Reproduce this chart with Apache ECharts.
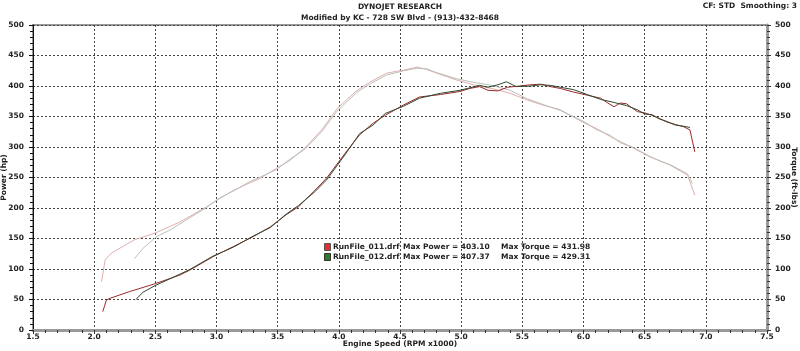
<!DOCTYPE html>
<html>
<head>
<meta charset="utf-8">
<script src="https://cdn.jsdelivr.net/npm/echarts@6/dist/echarts.min.js"></script>
<style>
  html, body { margin: 0; padding: 0; background: #fff; }
  #chart { width: 800px; height: 351px; }
</style>
</head>
<body>
<div id="chart"></div>
<script>
  // RunFile_011 - power (hp)
  const rpmHp011 = [2.07, 2.10, 2.13, 2.29, 2.50, 2.70, 2.78, 2.97, 3.14, 3.30, 3.44, 3.57, 3.67, 3.80, 3.90, 4.06, 4.17, 4.28, 4.38, 4.53, 4.66, 4.83, 4.99, 5.07, 5.15, 5.22, 5.30, 5.38, 5.48, 5.57, 5.65, 5.73, 5.81, 5.92, 6.03, 6.14, 6.20, 6.25, 6.30, 6.35, 6.44, 6.50, 6.56, 6.62, 6.68, 6.75, 6.82, 6.87, 6.91];
  const hp011 = [30, 49, 52, 63, 76, 90, 98, 120, 137, 153, 169, 189, 202, 228, 249, 292, 320, 339, 352, 369, 382, 386, 391, 396, 399, 393, 392, 398, 400, 402, 403, 399, 396, 390, 385, 380, 372, 366, 372, 371, 358, 356, 352, 347, 341, 337, 333, 328, 292];

  // RunFile_012 - power (hp)
  const rpmHp012 = [2.34, 2.40, 2.50, 2.62, 2.78, 2.97, 3.14, 3.30, 3.44, 3.57, 3.67, 3.80, 3.90, 4.06, 4.17, 4.28, 4.38, 4.53, 4.66, 4.83, 4.99, 5.07, 5.15, 5.22, 5.30, 5.37, 5.45, 5.57, 5.65, 5.73, 5.81, 5.92, 6.03, 6.14, 6.25, 6.35, 6.44, 6.50, 6.56, 6.62, 6.68, 6.75, 6.82, 6.87];
  const hp012 = [50, 62, 73, 84, 99, 121, 136, 154, 168, 190, 204, 226, 246, 290, 322, 336, 355, 367, 380, 388, 393, 397, 401, 398, 402, 407, 399, 400, 402, 401, 398, 394, 386, 378, 373, 368, 361, 354, 353, 346, 342, 336, 334, 332];

  // RunFile_011 - torque (ft-lbs)
  const rpmTq011 = [2.06, 2.09, 2.14, 2.33, 2.50, 2.70, 2.92, 3.03, 3.14, 3.27, 3.36, 3.49, 3.60, 3.72, 3.86, 3.99, 4.15, 4.26, 4.39, 4.47, 4.53, 4.64, 4.72, 4.80, 4.96, 5.10, 5.25, 5.40, 5.54, 5.68, 5.81, 6.01, 6.10, 6.22, 6.30, 6.41, 6.54, 6.62, 6.71, 6.85, 6.91];
  const tq011 = [79, 115, 126, 148, 159, 177, 202, 216, 229, 241, 249, 265, 278, 298, 328, 364, 393, 407, 421, 424, 426, 431, 427, 421, 410, 402, 396, 388, 377, 368, 361, 339, 331, 317, 309, 298, 284, 278, 270, 254, 221];

  // RunFile_012 - torque (ft-lbs)
  const rpmTq012 = [2.33, 2.40, 2.51, 2.62, 2.75, 2.92, 3.03, 3.14, 3.27, 3.36, 3.49, 3.60, 3.72, 3.86, 3.99, 4.15, 4.26, 4.39, 4.53, 4.64, 4.72, 4.80, 4.96, 5.10, 5.25, 5.40, 5.54, 5.68, 5.81, 6.01, 6.10, 6.22, 6.30, 6.41, 6.54, 6.62, 6.71, 6.85, 6.89];
  const tq012 = [117, 134, 153, 164, 180, 201, 217, 228, 243, 251, 263, 280, 296, 325, 360, 390, 404, 418, 425, 429, 428, 422, 412, 406, 401, 393, 379, 369, 360, 341, 329, 319, 307, 299, 285, 277, 271, 256, 240];

  const FONT = 'DejaVu Sans';
  const zip = (xs, ys) => xs.map((x, i) => [x, ys[i]]);

  const lineSeries = (name, data, color, yAxisIndex) => ({
    name,
    type: 'line',
    data,
    yAxisIndex,
    showSymbol: false,
    silent: true,
    lineStyle: { color, width: 1 },
    z: 3,
  });

  const label = (text, x, y, align) => ({
    type: 'text',
    left: align === 'right' ? null : x,
    right: align === 'right' ? x : null,
    top: y,
    style: { text, font: `bold 7.5px ${FONT}`, fill: '#222' },
  });

  const chart = echarts.init(document.getElementById('chart'));

  chart.setOption({
    animation: false,
    backgroundColor: '#fff',
    grid: {
      left: 33,
      right: 33,
      top: 25,
      bottom: 21,
      outerBoundsMode: 'none',
      containLabel: false,
      show: true,
      borderColor: '#999',
      borderWidth: 2,
    },
    xAxis: {
      type: 'value',
      min: 1.5,
      max: 7.5,
      interval: 0.5,
      name: 'Engine Speed (RPM x1000)',
      nameLocation: 'middle',
      nameGap: 10,
      nameMoveOverlap: false,
      nameTextStyle: { fontFamily: FONT, fontWeight: 'bold', fontSize: 7.5, color: '#222' },
      axisLine: { lineStyle: { color: '#9a9a9a', width: 3 } },
      axisTick: { show: true, length: 4, lineStyle: { color: '#333' } },
      minorTick: { show: true, splitNumber: 5, length: 3, lineStyle: { color: '#333' } },
      axisLabel: {
        fontFamily: FONT, fontWeight: 'bold', fontSize: 7.5, color: '#222', margin: 3,
        formatter: (v) => v.toFixed(1),
      },
      splitLine: { show: true, lineStyle: { color: '#444', type: [2, 2], width: 1 } },
    },
    yAxis: [
      {
        type: 'value',
        min: 0,
        max: 500,
        interval: 50,
        position: 'left',
        name: 'Power (hp)',
        nameLocation: 'middle',
        nameRotate: 90,
        nameGap: 25,
        nameMoveOverlap: false,
        nameTextStyle: { fontFamily: FONT, fontWeight: 'bold', fontSize: 7.5, color: '#222' },
        axisLine: { show: true, lineStyle: { color: '#111', width: 1 } },
        axisTick: { show: true, length: 4, lineStyle: { color: '#111' } },
        minorTick: { show: true, splitNumber: 5, length: 3, lineStyle: { color: '#111' } },
        axisLabel: { fontFamily: FONT, fontWeight: 'bold', fontSize: 7.5, color: '#222', margin: 9 },
        splitLine: { show: true, lineStyle: { color: '#444', type: [2, 2], width: 1 } },
      },
      {
        type: 'value',
        min: 0,
        max: 500,
        interval: 50,
        position: 'right',
        name: 'Torque (ft-lbs)',
        nameLocation: 'middle',
        nameRotate: -90,
        nameGap: 23,
        nameMoveOverlap: false,
        nameTextStyle: { fontFamily: FONT, fontWeight: 'bold', fontSize: 7.5, color: '#222' },
        axisLine: { show: true, lineStyle: { color: '#9a9a9a', width: 3 } },
        axisTick: { show: true, length: 4, lineStyle: { color: '#333' } },
        minorTick: { show: true, splitNumber: 5, length: 3, lineStyle: { color: '#333' } },
        axisLabel: { fontFamily: FONT, fontWeight: 'bold', fontSize: 7.5, color: '#222', margin: 8 },
        splitLine: { show: false },
      },
    ],
    series: [
      lineSeries('Torque 011', zip(rpmTq011, tq011), '#e2aeae', 1),
      lineSeries('Torque 012', zip(rpmTq012, tq012), '#b9c2b9', 1),
      lineSeries('Power 011', zip(rpmHp011, hp011), '#9a2a2a', 0),
      lineSeries('Power 012', zip(rpmHp012, hp012), '#2f4a30', 0),
    ],
    graphic: [
      {
        type: 'text', left: 'center', top: 3,
        style: { text: 'DYNOJET RESEARCH', font: `bold 7.5px ${FONT}`, fill: '#222' },
      },
      {
        type: 'text', left: 'center', top: 14,
        style: { text: 'Modified by KC - 728 SW Blvd - (913)-432-8468', font: `bold 7.5px ${FONT}`, fill: '#222' },
      },
      label('CF: STD  Smoothing: 3', 3, 2, 'right'),
      {
        type: 'rect', left: 324, top: 243,
        shape: { width: 6, height: 7 },
        style: { fill: '#e03030', stroke: '#555', lineWidth: 1 },
      },
      {
        type: 'rect', left: 324, top: 253,
        shape: { width: 6, height: 7 },
        style: { fill: '#2f7a2f', stroke: '#333', lineWidth: 1 },
      },
      label('RunFile_011.drf', 333, 243),
      label('RunFile_012.drf', 333, 253),
      label('Max Power = 403.10', 403, 243),
      label('Max Power = 407.37', 403, 253),
      label('Max Torque = 431.98', 501, 243),
      label('Max Torque = 429.31', 501, 253),
    ],
  });
</script>
</body>
</html>
